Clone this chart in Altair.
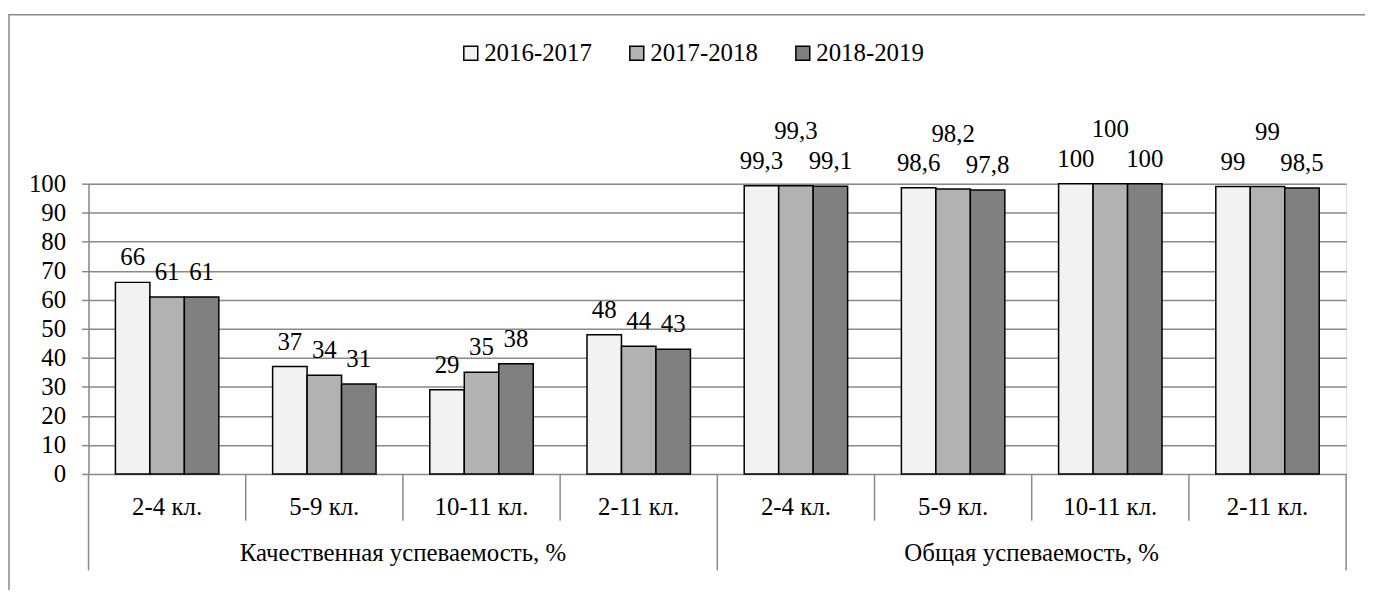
import altair as alt
import pandas as pd

FONT = "Liberation Serif"
FS = 25

mains = ["Качественная успеваемость, %", "Общая успеваемость, %"]
subs = ["2-4 кл.", "5-9 кл.", "10-11 кл.", "2-11 кл."]
series = ["2016-2017", "2017-2018", "2018-2019"]
quality = {
    "2016-2017": [66, 37, 29, 48],
    "2017-2018": [61, 34, 35, 44],
    "2018-2019": [61, 31, 38, 43],
}
overall = {
    "2016-2017": [99.3, 98.6, 100, 99],
    "2017-2018": [99.3, 98.2, 100, 99],
    "2018-2019": [99.1, 97.8, 100, 98.5],
}
colors = ["#f2f2f2", "#b2b2b2", "#808080"]
y_ticks = list(range(0, 101, 10))

W, H = 1265, 292
GRID = "#898989"

rows = []
keys = []
for m, block in zip(mains, [quality, overall]):
    for i, s in enumerate(subs):
        k = f"{m}|{s}"
        keys.append(k)
        for ser in series:
            v = block[ser][i]
            rows.append({"main": m, "sub": s, "key": k, "series": ser, "value": v,
                         "label": f"{v:g}".replace(".", ",")})
df = pd.DataFrame(rows)

cat_df = pd.DataFrame([{"main": k.split("|")[0], "sub": k.split("|")[1], "key": k} for k in keys])
main_df = pd.DataFrame([{"main": m, "key": f"{m}|{subs[len(subs)//2]}"} for m in mains])
frame_df = pd.DataFrame([{"f": 1}])

xenc = alt.X("key:N", sort=keys, axis=None, scale=alt.Scale(paddingInner=0, paddingOuter=0))
xoff = alt.XOffset("series:N", sort=series, scale=alt.Scale(paddingInner=0, paddingOuter=0.78))
yaxis = alt.Axis(title=None, values=y_ticks, tickCount=11, grid=True, gridColor=GRID, gridWidth=1.5,
                 domainColor=GRID, domainWidth=1.5, tickColor=GRID, tickWidth=1.5,
                 tickSize=7, labelPadding=16, labelFont=FONT, labelFontSize=FS,
                 labelColor="black", labelFlush=False, labelOverlap=False)
yenc = alt.Y("value:Q", scale=alt.Scale(domain=[0, 100], nice=False), axis=yaxis)

frame = alt.Chart(frame_df).mark_rect(filled=False, stroke=GRID, strokeWidth=1.5).encode(
    x=alt.value(-80), x2=alt.value(1300), y=alt.value(-170), y2=alt.value(430))

bars = alt.Chart(df).mark_bar(stroke="black", strokeWidth=1.5).encode(
    x=xenc, xOffset=xoff, y=yenc,
    color=alt.Color("series:N", sort=series, scale=alt.Scale(domain=series, range=colors),
                    legend=alt.Legend(orient="none", legendX=372, legendY=-144, direction="horizontal",
                                      title=None, symbolType="square", symbolSize=196,
                                      symbolStrokeColor="black", symbolStrokeWidth=1.5,
                                      labelFont=FONT, labelFontSize=FS, labelColor="black",
                                      labelOffset=1, columnPadding=32, padding=0)),
)

raised = "datum.main == '%s' && datum.series == '%s'" % (mains[1], series[1])

labels = alt.Chart(df).transform_filter("!(" + raised + ")").mark_text(
    font=FONT, fontSize=FS, baseline="alphabetic", dy=-17, color="black").encode(
    x=xenc, xOffset=xoff, y=yenc, text="label:N")

labels_up = alt.Chart(df).transform_filter(raised).mark_text(
    font=FONT, fontSize=FS, baseline="alphabetic", dy=-47, color="black").encode(
    x=xenc, xOffset=xoff, y=yenc, text="label:N")

sep_short = alt.Chart(cat_df).transform_filter("datum.sub != '%s'" % subs[0]).mark_rule(
    color=GRID, strokeWidth=1.5).encode(
    x=alt.X("key:N", sort=keys, bandPosition=0), y=alt.value(H), y2=alt.value(H + 47))

sep_long = alt.Chart(cat_df).transform_filter("datum.sub == '%s'" % subs[0]).mark_rule(
    color=GRID, strokeWidth=1.5).encode(
    x=alt.X("key:N", sort=keys, bandPosition=0), y=alt.value(H), y2=alt.value(H + 97))

sep_end = alt.Chart(cat_df).transform_filter("datum.key == '%s'" % keys[-1]).mark_rule(
    color=GRID, strokeWidth=1.5).encode(
    x=alt.X("key:N", sort=keys, bandPosition=1), y=alt.value(H), y2=alt.value(H + 97))

sub_text = alt.Chart(cat_df).mark_text(font=FONT, fontSize=FS, baseline="alphabetic", color="black").encode(
    x=alt.X("key:N", sort=keys), y=alt.value(H + 41), text="sub:N")

main_text = alt.Chart(main_df).mark_text(font=FONT, fontSize=FS, baseline="alphabetic", color="black").encode(
    x=alt.X("key:N", sort=keys, bandPosition=0), y=alt.value(H + 88), text="main:N")

chart = alt.layer(frame, bars, labels, labels_up, sep_short, sep_long, sep_end, sub_text, main_text).properties(
    width=W, height=H, autosize="none",
    padding={"left": 81, "top": 175, "right": 19, "bottom": 115},
).configure_view(stroke=None).configure(font=FONT)

chart.save("out.html", embed_options={"renderer": "svg", "actions": False})
